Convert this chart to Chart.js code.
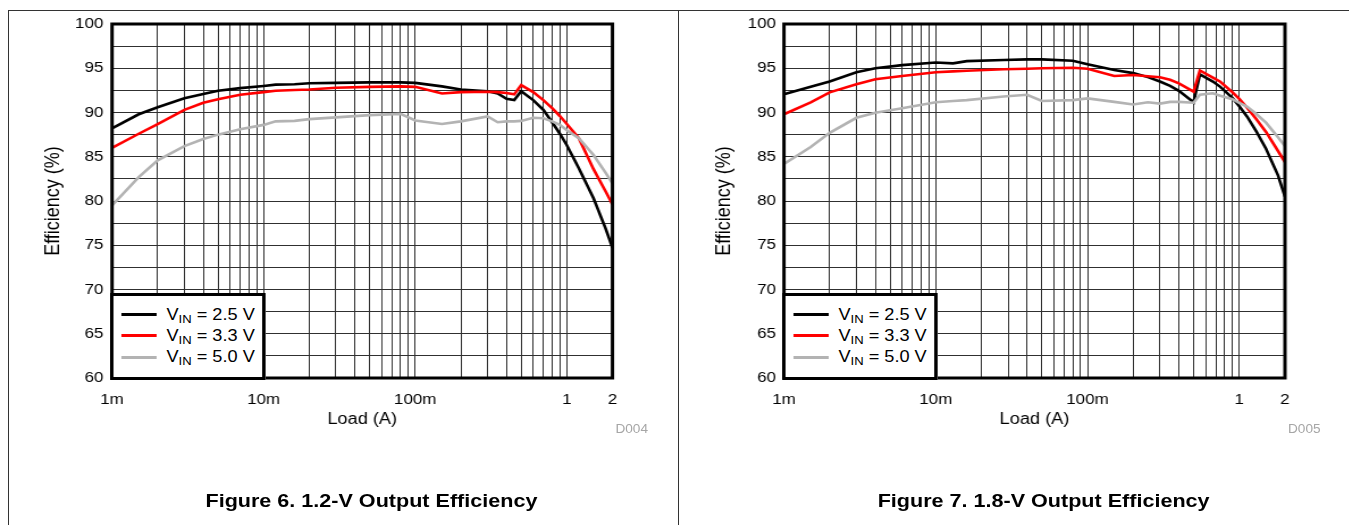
<!DOCTYPE html>
<html>
<head>
<meta charset="utf-8">
<script src="https://cdn.jsdelivr.net/npm/chart.js@4.4.1/dist/chart.umd.min.js"></script>
<style>
  html, body { margin:0; padding:0; background:#fff; width:1349px; height:525px; overflow:hidden;
    font-family: Arial, "Liberation Sans", Helvetica, sans-serif; }
  .frame { position:absolute; background:#333; }
  .panel { position:absolute; top:0; height:525px; transform-origin:0 0; transform:scaleX(1.135); }
  .panel canvas { position:absolute; left:0; top:0; }
  .legend { position:absolute; box-sizing:border-box; border:3px solid #000; background:#fff; }
  .swatch { position:absolute; height:3px; }
  .row { position:absolute; height:16px; line-height:16px; font-size:16px; white-space:nowrap; color:#000; }
  .row sub { font-size:11.5px; line-height:0; vertical-align:baseline; position:relative; top:3.3px; }
  .code { position:absolute; font-size:12px; line-height:12px; color:#a6a6a6; white-space:nowrap; transform:translateX(-50%); }
  .caption { position:absolute; font-weight:bold; font-size:19px; line-height:19px; color:#000; white-space:nowrap; transform:translateX(-50%); }
</style>
</head>
<body>
<div class="frame" style="left:8px;top:10px;width:1341px;height:1px"></div>
<div class="frame" style="left:8px;top:10px;width:1px;height:515px"></div>
<div class="frame" style="left:678px;top:10px;width:1px;height:515px"></div>
<div class="panel" id="p6" style="left:0px;width:598px"><canvas id="c6" width="598" height="440"></canvas></div>
<div class="panel" id="p7" style="left:680px;width:589px"><canvas id="c7" width="589" height="440"></canvas></div>
<script>
// ---------------- data ----------------
const fig6Loads = [0.001, 0.0015, 0.002, 0.003, 0.004, 0.005, 0.007, 0.01, 0.012, 0.016, 0.02, 0.03, 0.05, 0.08, 0.1, 0.15, 0.2, 0.3, 0.35, 0.4, 0.45, 0.5, 0.6, 0.7, 0.8, 0.9, 1.0, 1.2, 1.5, 1.8, 2.0];
const fig6Vin25 = [88.2, 89.8, 90.6, 91.6, 92.1, 92.45, 92.75, 93.0, 93.15, 93.2, 93.3, 93.35, 93.4, 93.4, 93.35, 92.95, 92.6, 92.4, 92.15, 91.55, 91.4, 92.4, 91.4, 90.3, 88.9, 87.6, 86.3, 83.7, 80.3, 76.9, 74.7];
const fig6Vin33 = [86.0, 87.6, 88.7, 90.3, 91.1, 91.5, 92.0, 92.3, 92.45, 92.55, 92.6, 92.8, 92.9, 92.95, 92.9, 92.15, 92.3, 92.35, 92.3, 92.2, 92.05, 93.1, 92.3, 91.4, 90.5, 89.6, 88.7, 87.1, 83.6, 81.1, 79.6];
const fig6Vin50 = [79.5, 82.7, 84.6, 86.2, 87.0, 87.5, 88.1, 88.6, 89.0, 89.05, 89.25, 89.45, 89.7, 89.85, 89.1, 88.7, 89.0, 89.55, 88.9, 89.0, 89.0, 89.05, 89.4, 89.35, 89.0, 88.6, 88.0, 87.1, 85.2, 83.2, 82.0];

const fig7Loads = [0.001, 0.0015, 0.002, 0.003, 0.004, 0.006, 0.01, 0.013, 0.016, 0.028, 0.04, 0.05, 0.08, 0.1, 0.15, 0.2, 0.25, 0.3, 0.35, 0.4, 0.5, 0.55, 0.67, 0.75, 0.9, 1.0, 1.13, 1.3, 1.5, 1.8, 2.0];
const fig7Vin25 = [92.05, 92.9, 93.5, 94.55, 95.0, 95.35, 95.65, 95.55, 95.8, 95.93, 96.0, 96.0, 95.85, 95.45, 94.8, 94.45, 94.0, 93.5, 93.0, 92.45, 91.15, 94.3, 93.5, 92.9, 91.65, 90.7, 89.5, 87.8, 85.9, 82.9, 80.5];
const fig7Vin33 = [89.8, 91.15, 92.28, 93.2, 93.75, 94.12, 94.54, 94.65, 94.72, 94.88, 94.95, 95.0, 95.05, 94.95, 94.12, 94.24, 94.1, 93.98, 93.7, 93.3, 92.35, 94.75, 93.93, 93.48, 92.3, 91.55, 90.5, 89.2, 87.8, 85.65, 84.4];
const fig7Vin50 = [84.2, 86.1, 87.7, 89.4, 89.98, 90.47, 91.15, 91.3, 91.4, 91.8, 92.0, 91.3, 91.4, 91.6, 91.2, 90.9, 91.15, 91.0, 91.2, 91.2, 91.1, 92.0, 92.17, 91.9, 91.5, 91.1, 90.65, 89.8, 88.85, 87.2, 86.2];

const vinLabels = ['2.5', '3.3', '5.0'];
const xTickValues = [0.001, 0.01, 0.1, 1, 2];
const xTickLabels = ['1m', '10m', '100m', '1', '2'];
const yTickLabels = [60, 65, 70, 75, 80, 85, 90, 95, 100];
const yMinorStep = 2.5;
const figCaptions = ['Figure 6. 1.2-V Output Efficiency', 'Figure 7. 1.8-V Output Efficiency'];
const figCodes = ['D004', 'D005'];
const xTitle = 'Load (A)';
const yTitle = 'Efficiency (%)';

// ---------------- styling ----------------
const FONT = 'Arial, "Liberation Sans", Helvetica, sans-serif';
const seriesColors = ['#000000', '#ff0000', '#b3b3b3'];
const seriesOrder = [2, 1, 0];
const GRID = '#303030';

function logGridValues(min, max) {
  const vals = [];
  for (let e = Math.floor(Math.log10(min)); e <= Math.ceil(Math.log10(max)); e++) {
    for (let m = 1; m <= 9; m++) {
      const v = +(m * Math.pow(10, e)).toPrecision(6);
      if (v >= min * (1 - 1e-9) && v <= max * (1 + 1e-9)) vals.push(v);
    }
  }
  return vals;
}
function linGridValues(min, max, step) {
  const vals = [];
  const n = Math.round((max - min) / step);
  for (let i = 0; i <= n; i++) vals.push(+(min + i * step).toFixed(4));
  return vals;
}
function xLabelFor(v) {
  const i = xTickValues.findIndex(t => Math.abs(t - v) <= t * 1e-6);
  return i >= 0 ? xTickLabels[i] : '';
}

const framePlugin = {
  id: 'plotFrame',
  afterDatasetsDraw(chart) {
    const { ctx, chartArea: a } = chart;
    ctx.save();
    ctx.lineWidth = 3;
    ctx.strokeStyle = '#000';
    ctx.strokeRect(a.left, a.top, a.right - a.left, a.bottom - a.top);
    ctx.restore();
  }
};

function buildChart(canvasId, panelId, loads, seriesValues, cfg) {
  const xMin = xTickValues[0], xMax = xTickValues[xTickValues.length - 1];
  const yMin = yTickLabels[0], yMax = yTickLabels[yTickLabels.length - 1];
  const gridX = logGridValues(xMin, xMax);
  const gridY = linGridValues(yMin, yMax, yMinorStep);

  const chart = new Chart(document.getElementById(canvasId), {
    type: 'line',
    data: {
      datasets: seriesValues.map((vals, i) => ({
        label: 'VIN = ' + vinLabels[i] + ' V',
        data: loads.map((x, j) => ({ x: x, y: vals[j] })),
        borderColor: seriesColors[i],
        backgroundColor: seriesColors[i],
        borderWidth: 2.6,
        pointRadius: 0,
        tension: 0,
        fill: false,
        order: seriesOrder[i]
      }))
    },
    options: {
      responsive: false,
      animation: false,
      devicePixelRatio: 1,
      events: [],
      layout: { padding: { left: 0, top: 24, right: cfg.rightPad, bottom: 0 } },
      plugins: { legend: { display: false }, tooltip: { enabled: false }, title: { display: false } },
      scales: {
        x: {
          type: 'logarithmic', min: xMin, max: xMax,
          afterBuildTicks: s => { s.ticks = gridX.map(v => ({ value: v })); },
          afterFit: s => { s.height = 62; },
          grid: { color: GRID, lineWidth: 1, drawTicks: false },
          border: { display: false },
          ticks: { autoSkip: false, maxRotation: 0, minRotation: 0, padding: 12.7, color: '#000',
                   font: { family: FONT, size: 15 }, callback: v => xLabelFor(v) },
          title: { display: true, text: xTitle, color: '#000', font: { family: FONT, size: 16 },
                   padding: { top: 0, bottom: 10.4 } }
        },
        y: {
          type: 'linear', min: yMin, max: yMax,
          afterBuildTicks: s => { s.ticks = gridY.map(v => ({ value: v })); },
          afterFit: s => { s.width = cfg.yWidth; },
          grid: { color: GRID, lineWidth: 1, drawTicks: false },
          border: { display: false },
          ticks: { autoSkip: false, padding: cfg.yTickPad, color: '#000', font: { family: FONT, size: 15 },
                   callback: v => (yTickLabels.indexOf(v) >= 0 ? String(v) : '') },
          title: { display: true, text: yTitle, color: '#000', font: { family: FONT, size: 18 },
                   padding: { top: cfg.yTitlePad, bottom: 0 } }
        }
      }
    },
    plugins: [framePlugin]
  });

  // HTML overlays placed from the chart's computed plot area
  const a = chart.chartArea;
  const panel = document.getElementById(panelId);

  const lg = document.createElement('div');
  lg.className = 'legend';
  const lgW = 137, lgH = 87;
  lg.style.left = (a.left - 1.5) + 'px';
  lg.style.top = (a.bottom + 1.5 - lgH) + 'px';
  lg.style.width = lgW + 'px';
  lg.style.height = lgH + 'px';
  const rowCenters = [19.3, 40.4, 61.5];
  vinLabels.forEach((v, i) => {
    const sw = document.createElement('div');
    sw.className = 'swatch';
    sw.style.left = '6.9px';
    sw.style.width = '30.8px';
    sw.style.top = (rowCenters[i] - 1.5) + 'px';
    sw.style.background = seriesColors[i];
    lg.appendChild(sw);
    const row = document.createElement('div');
    row.className = 'row';
    row.style.left = '46.5px';
    row.style.top = (rowCenters[i] - 8) + 'px';
    row.innerHTML = 'V<sub>IN</sub> = ' + v + ' V';
    lg.appendChild(row);
  });
  panel.appendChild(lg);

  const code = document.createElement('div');
  code.className = 'code';
  code.textContent = cfg.code;
  code.style.left = (a.right + 17) + 'px';
  code.style.top = '423.2px';
  panel.appendChild(code);

  const cap = document.createElement('div');
  cap.className = 'caption';
  cap.textContent = cfg.caption;
  cap.style.left = ((a.left + a.right) / 2 + 8.1) + 'px';
  cap.style.top = '490.7px';
  panel.appendChild(cap);

  return chart;
}

buildChart('c6', 'p6', fig6Loads, [fig6Vin25, fig6Vin33, fig6Vin50],
  { yWidth: 98.7, yTickPad: 7.6, yTitlePad: 36.2, rightPad: 58.4, code: figCodes[0], caption: figCaptions[0] });
buildChart('c7', 'p7', fig7Loads, [fig7Vin25, fig7Vin33, fig7Vin50],
  { yWidth: 91.6, yTickPad: 7.0, yTitlePad: 28.0, rightPad: 56.0, code: figCodes[1], caption: figCaptions[1] });
</script>
</body>
</html>
